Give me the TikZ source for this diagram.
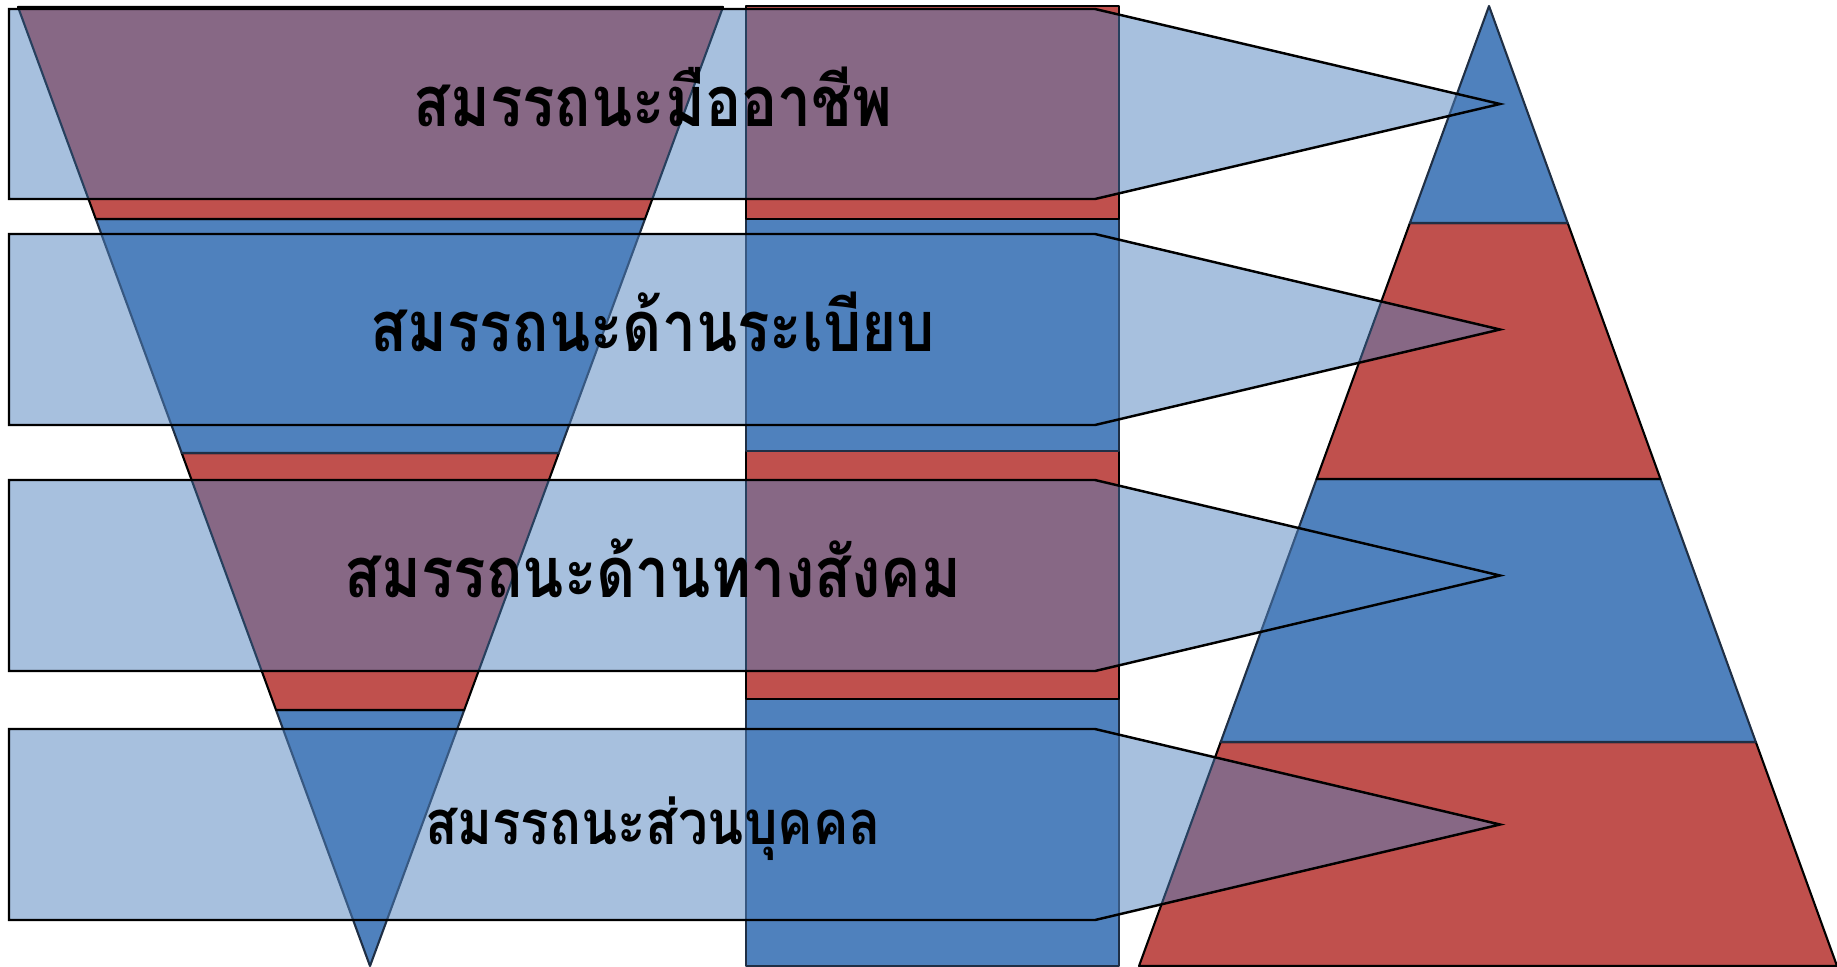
\documentclass[tikz,border=0pt]{standalone}
\usepackage{fontspec}
\newfontfamily\thaifont[Script=Thai,FakeStretch=0.86]{Loma}
\usetikzlibrary{calc}
\definecolor{tierred}{HTML}{C0504D}
\definecolor{tierblue}{HTML}{4F81BD}
\definecolor{edge}{HTML}{1F2F45}
\tikzset{
  redband/.style={fill=tierred,draw=black,line width=0.6pt,line join=round},
  blueband/.style={fill=tierblue,draw=edge,line width=0.6pt,line join=round},
  callout/.style={fill=tierblue,fill opacity=0.5,draw=black,draw opacity=1,line width=0.7pt},
  tagtext/.style={font=\thaifont\bfseries\fontsize{20}{24}\selectfont,text height=0.35cm,text depth=0pt,inner sep=0pt,text=black},
  smalltag/.style={tagtext,font=\thaifont\bfseries\fontsize{17.5}{21}\selectfont,text height=0.31cm}
}
\begin{document}
\begin{tikzpicture}[x=1cm,y=1cm]
        \useasboundingbox (0,0) rectangle (18.37,9.66);
        \coordinate (fa) at (3.70,0);
        \coordinate (fl) at (0.18,9.59);
        \coordinate (fr) at (7.23,9.59);
        \foreach \lo/\hi/\s in {0/2.56/blueband,2.56/5.13/redband,5.13/7.47/blueband,7.47/9.59/redband} {
          \path[\s] ($(fa)!{\lo/9.59}!(fl)$) -- ($(fa)!{\hi/9.59}!(fl)$) -- ($(fa)!{\hi/9.59}!(fr)$) -- ($(fa)!{\lo/9.59}!(fr)$) -- cycle;
        }

        \foreach \lo/\hi/\s in {0/2.67/blueband,2.67/5.15/redband,5.15/7.47/blueband,7.47/9.60/redband} {
          \path[\s] (7.46,\lo) rectangle (11.19,\hi);
        }

        \coordinate (pa) at (14.89,9.60);
        \coordinate (pl) at (11.39,0);
        \coordinate (pr) at (18.37,0);
        \foreach \lo/\hi/\s in {0/2.24/redband,2.24/4.87/blueband,4.87/7.43/redband,7.43/9.60/blueband} {
          \path[\s] ($(pl)!{\lo/9.60}!(pa)$) -- ($(pl)!{\hi/9.60}!(pa)$) -- ($(pr)!{\hi/9.60}!(pa)$) -- ($(pr)!{\lo/9.60}!(pa)$) -- cycle;
        }

        \foreach \t/\b in {9.57/7.67,7.32/5.41,4.86/2.95,2.37/0.46} {
          \path[callout] (0.09,\t) -- (10.95,\t) -- (15.00,{(\t+\b)/2}) -- (10.95,\b) -- (0.09,\b) -- cycle;
        }

        \node[tagtext] (pro) at (6.53,8.57) {สมรรถนะมืออาชีพ};
        \node[tagtext] (rule) at (6.53,6.32) {สมรรถนะด้านระเบียบ};
        \node[tagtext] (social) at (6.53,3.86) {สมรรถนะด้านทางสังคม};
        \node[smalltag] (self) at (6.53,1.37) {สมรรถนะส่วนบุคคล};
      \end{tikzpicture}
\end{document}
